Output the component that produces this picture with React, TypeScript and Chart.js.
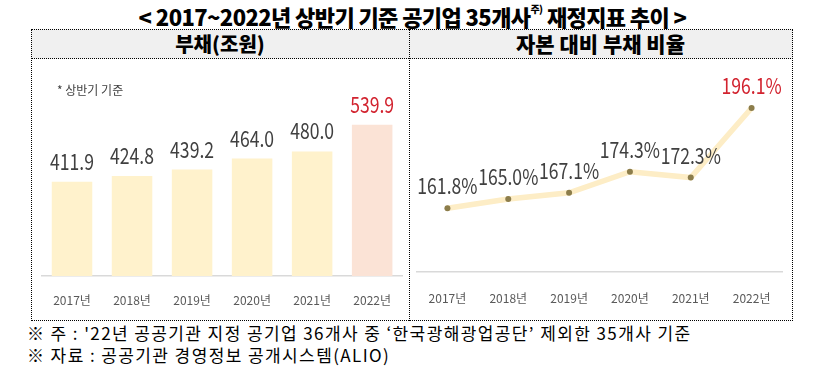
import React, { useEffect, useRef } from "react";
import { Chart, registerables } from "chart.js";

Chart.register(...registerables);

const categories = ["2017년", "2018년", "2019년", "2020년", "2021년", "2022년"];
const debtValues = [411.9, 424.8, 439.2, 464.0, 480.0, 539.9];
const debtLabels = ["411.9", "424.8", "439.2", "464.0", "480.0", "539.9"];
const ratioValues = [161.8, 165.0, 167.1, 174.3, 172.3, 196.1];
const ratioLabels = ["161.8%", "165.0%", "167.1%", "174.3%", "172.3%", "196.1%"];

const NUM_FONT = '"Noto Sans CJK KR", "Noto Sans", sans-serif';
const KR_FONT = '"Noto Sans CJK KR", "Noto Sans", sans-serif';

const valueLabelPlugin = {
  id: "valueLabels",
  afterDatasetsDraw(chart: any, _args: any, opts: any) {
    const ctx = chart.ctx;
    const meta = chart.getDatasetMeta(0);
    const labels: string[] = opts.labels || [];
    meta.data.forEach((el: any, i: number) => {
      ctx.save();
      ctx.font = `${opts.size || 22}px ${NUM_FONT}`;
      ctx.textAlign = "center";
      ctx.textBaseline = "alphabetic";
      ctx.fillStyle = i === labels.length - 1 ? "#d2232f" : "#404040";
      ctx.translate(el.x, el.y - (opts.offset || 12));
      ctx.scale(opts.squeeze || 0.8, 1);
      ctx.fillText(labels[i], 0, 0);
      ctx.restore();
    });
  },
};

function BarChart() {
  const ref = useRef<HTMLCanvasElement>(null);
  useEffect(() => {
    const chart = new Chart(ref.current!, {
      type: "bar",
      data: {
        labels: categories,
        datasets: [
          {
            data: debtValues,
            backgroundColor: debtValues.map((_, i) => (i === debtValues.length - 1 ? "#fbe3d6" : "#fff2cc")),
            barPercentage: 0.675,
            categoryPercentage: 1,
          },
        ],
      },
      options: {
        animation: false,
        responsive: false,
        layout: { padding: { left: 11, right: 6, top: 40, bottom: 4.6 } },
        plugins: {
          legend: { display: false },
          tooltip: { enabled: false },
          valueLabels: { labels: debtLabels, offset: 12, size: 22, squeeze: 0.8 },
        } as any,
        scales: {
          x: {
            grid: { display: false, drawTicks: false },
            border: { display: true, color: "#d9d9d9", width: 1.5 },
            ticks: { color: "#595959", font: { family: NUM_FONT, size: 12 }, padding: 17.5 },
          },
          y: { display: false, min: 200, max: 600 },
        },
      },
      plugins: [valueLabelPlugin],
    });
    return () => chart.destroy();
  }, []);
  return <canvas ref={ref} width={378} height={272} style={{ display: "block" }} />;
}

function LineChart() {
  const ref = useRef<HTMLCanvasElement>(null);
  useEffect(() => {
    const chart = new Chart(ref.current!, {
      type: "line",
      data: {
        labels: categories,
        datasets: [
          {
            data: ratioValues,
            borderColor: "#fdedc6",
            borderWidth: 5.5,
            tension: 0,
            pointRadius: 3,
            pointBackgroundColor: "#8c7d4b",
            pointBorderWidth: 0,
          },
        ],
      },
      options: {
        animation: false,
        responsive: false,
        layout: { padding: { left: 8, right: 10, top: 38.6, bottom: 6 } },
        plugins: {
          legend: { display: false },
          tooltip: { enabled: false },
          valueLabels: { labels: ratioLabels, offset: 14, size: 22, squeeze: 0.8 },
        } as any,
        scales: {
          x: {
            offset: true,
            grid: { display: false, drawTicks: false },
            border: { display: true, color: "#d9d9d9", width: 1.5 },
            ticks: { color: "#595959", font: { family: NUM_FONT, size: 12 }, padding: 18.8 },
          },
          y: { display: false, min: 140, max: 200 },
        },
      },
      plugins: [valueLabelPlugin],
    });
    return () => chart.destroy();
  }, []);
  return <canvas ref={ref} width={383} height={272} style={{ display: "block" }} />;
}

const dotted = "1px dotted #000";

export default function App() {
  return (
    <div
      style={{
        position: "absolute",
        left: 0,
        top: 0,
        width: 825,
        height: 368,
        background: "#fff",
        fontFamily: KR_FONT,
        overflow: "hidden",
      }}
    >
      <div
        style={{
          position: "absolute",
          left: 0,
          top: 1,
          width: 825,
          textAlign: "center",
          fontSize: 22,
          fontWeight: 900,
          lineHeight: "30px",
          color: "#000",
          letterSpacing: "-0.6px",
        }}
      >
        &lt; 2017~2022년 상반기 기준 공기업 35개사
        <sup style={{ fontSize: 10, verticalAlign: "top", lineHeight: "16px" }}>주)</sup> 재정지표 추이 &gt;
      </div>

      {/* header row */}
      <div
        style={{
          position: "absolute",
          left: 31,
          top: 29,
          width: 760,
          height: 28,
          background: "#f0f0f0",
          borderTop: dotted,
          borderBottom: dotted,
          borderLeft: dotted,
          borderRight: dotted,
        }}
      />
      <div
        style={{
          position: "absolute",
          left: 31,
          top: 29,
          width: 378,
          height: 29,
          lineHeight: "29px",
          textAlign: "center",
          fontSize: 20,
          fontWeight: 900,
        }}
      >
        부채(조원)
      </div>
      <div
        style={{
          position: "absolute",
          left: 409,
          top: 29,
          width: 383,
          height: 29,
          lineHeight: "29px",
          textAlign: "center",
          fontSize: 21,
          fontWeight: 900,
        }}
      >
        자본 대비 부채 비율
      </div>

      {/* body frame */}
      <div
        style={{
          position: "absolute",
          left: 31,
          top: 58,
          width: 760,
          height: 262,
          borderLeft: dotted,
          borderRight: dotted,
          borderBottom: dotted,
        }}
      />
      <div style={{ position: "absolute", left: 409, top: 29, width: 0, height: 292, borderLeft: dotted }} />

      <div
        style={{
          position: "absolute",
          left: 27,
          top: 322,
          fontSize: 17,
          lineHeight: "22px",
          letterSpacing: "1.4px",
          color: "#000",
          whiteSpace: "nowrap",
        }}
      >
        <div>※ 주 : '22년 공공기관 지정 공기업 36개사 중 ‘한국광해광업공단’ 제외한 35개사 기준</div>
        <div>※ 자료 : 공공기관 경영정보 공개시스템(ALIO)</div>
      </div>

      <div style={{ position: "absolute", left: 31, top: 58 }}>
        <BarChart />
      </div>
      <div style={{ position: "absolute", left: 409, top: 58 }}>
        <LineChart />
      </div>

      <div
        style={{
          position: "absolute",
          left: 57,
          top: 82,
          fontSize: 12,
          lineHeight: "16px",
          color: "#404040",
        }}
      >
        * 상반기 기준
      </div>
    </div>
  );
}
